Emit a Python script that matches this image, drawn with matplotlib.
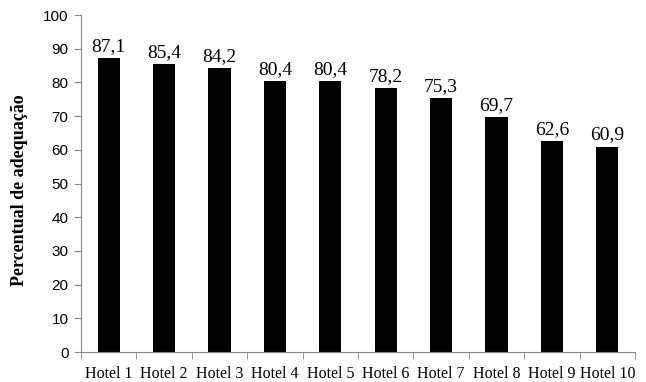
import numpy as np
import matplotlib.pyplot as plt

hotels = ['Hotel 1', 'Hotel 2', 'Hotel 3', 'Hotel 4', 'Hotel 5',
          'Hotel 6', 'Hotel 7', 'Hotel 8', 'Hotel 9', 'Hotel 10']
valores = [87.1, 85.4, 84.2, 80.4, 80.4, 78.2, 75.3, 69.7, 62.6, 60.9]
yticks = list(range(0, 101, 10))

serif = 'Liberation Serif'
eixo_cor = '#868686'

fig = plt.figure(figsize=(6.46, 3.82), dpi=100)
ax = fig.add_axes([0.1254, 0.0785, 0.8576, 0.8822])

x = np.arange(len(hotels))
ax.bar(x, valores, width=0.4, color='black')

for xi, v in zip(x, valores):
    ax.text(xi, v + 1.0, f'{v:.1f}'.replace('.', ','), ha='center', va='bottom',
            fontsize=14, family=serif)

ax.set_xlim(-0.5, len(hotels) - 0.5)
ax.set_ylim(0, 100)
ax.set_yticks(yticks)
ax.set_yticklabels([str(t) for t in yticks], fontsize=11, family='Liberation Sans')

ax.set_xticks(x)
ax.set_xticklabels(hotels, fontsize=11.5, family=serif)
ax.tick_params(axis='x', length=0, pad=10)
ax.set_xticks(np.arange(-0.5, len(hotels)), minor=True)
ax.tick_params(axis='x', which='minor', length=5, color=eixo_cor, direction='out')
ax.tick_params(axis='y', length=5, color=eixo_cor, direction='out', pad=4)

for s in ['top', 'right']:
    ax.spines[s].set_visible(False)
for s in ['left', 'bottom']:
    ax.spines[s].set_color(eixo_cor)

ax.set_ylabel('Percentual de adequação', fontsize=13, fontweight='bold',
              family=serif)
ax.yaxis.set_label_coords(-0.096, 0.48)

fig.savefig('out.png', dpi=100)
